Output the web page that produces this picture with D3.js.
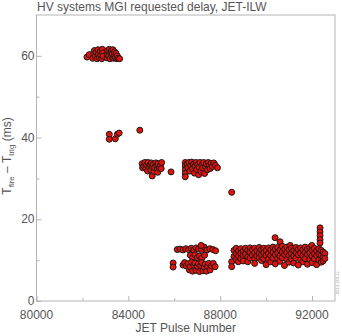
<!DOCTYPE html>
<html>
<head>
<meta charset="utf-8">
<script src="https://cdn.jsdelivr.net/npm/d3@7"></script>
<style>
  body { margin: 0; background: #fff; }
  text { font-family: "Liberation Sans", Arial, sans-serif; }
</style>
</head>
<body>
<div id="chart"></div>
<script>
// pulse number, delay (ms), grouped by era
var groupA = [[82200,59.7],[82300,60.3],[82450,59.4],[82480,60.6],[82520,61.3],[82560,59.9],[82600,60.9],[82640,59.3],[82680,61.5],[82700,60.4],[82740,59.6],[82780,61.1],[82800,60.1],[82840,59.3],[82870,61.6],[82880,60.7],[82900,59.9],
  [83070,59.5],[83080,60.4],[83100,61.3],[83140,60.0],[83170,61.6],[83200,59.3],[83220,60.8],[83260,61.2],[83280,59.8],[83300,60.5],[83330,61.5],[83360,59.4],[83380,60.2],[83400,61.0],[83430,59.6],[83460,60.6],[83500,59.3],[83520,60.0],[83560,59.4],[83620,59.3]];
var groupB = [[83170,40.8],[83170,39.6],[83430,39.7],[83520,40.8],[83600,41.1],[84500,41.8]];
var groupC = [[84600,33.6],[84620,32.6],[84680,33.0],[84720,33.9],[84760,32.4],[84800,33.3],[84840,31.8],[84860,33.9],[84900,32.8],[84950,33.4],[84980,32.1],[85000,33.8],[85040,32.9],[85040,30.6],[85080,33.4],[85120,31.7],[85150,32.7],[85200,33.8],[85240,33.1],[85260,32.2],[85280,31.5],[85300,33.6],[85350,32.5],[85400,33.2],[85450,33.9],[85430,32.4],[85860,31.6]];
var groupD = [[86480,33.9],[86480,33.0],[86480,32.1],[86480,31.2],[86480,30.4],[86560,33.5],[86600,32.6],[86640,33.9],[86680,31.8],[86720,33.2],[86760,34.0],[86800,32.4],[86840,33.5],[86880,31.3],[86900,33.0],[86950,33.9],[86980,32.2],[87020,33.4],[87060,30.9],[87080,32.8],[87120,33.9],[87160,31.7],[87200,33.3],[87240,32.5],[87280,33.9],[87320,31.2],[87360,32.9],[87400,33.6],[87440,32.1],[87480,33.9],[87520,33.1],[87560,32.4],[87600,33.7],[87660,32.9],[87720,33.8],[87790,33.2],[87880,32.6],[88500,26.6]];
var groupE = [[86130,12.6],[86250,12.7],[86380,12.5],[86500,12.8],[86620,12.6],[86740,12.9],[86850,12.5],[86950,13.0],[87060,12.7],[87180,12.6],[87300,13.2],[87420,12.5],[87550,12.8],[87680,12.6],[87800,12.3],[87170,13.6],
  [86700,11.2],[86800,10.6],[86900,11.3],[87000,10.6],[87100,11.0],[87200,10.5],[87320,11.2],
  [85950,9.3],[85950,8.3],[86380,8.8],[86450,9.4],[86520,8.6],[86600,9.1],[86660,7.6],[86700,8.4],[86750,9.5],[86800,7.3],[86850,8.8],[86900,9.3],[86950,7.5],[87000,8.5],[87050,9.1],[87100,7.2],[87150,8.7],[87200,9.4],[87250,7.4],[87300,8.3],[87350,9.0],[87400,7.3],[87450,8.5],[87500,9.2],[87560,7.6],[87620,8.6],[87700,9.2],[87780,8.4]];
var groupF = [[88500,9.6],[88500,8.4],[88600,12.4],[88600,10.9],[88700,12.9],[88700,11.6],[88700,10.2],[88800,12.3],[88800,11.0],[88790,9.6],
  [88900,12.8],[88900,11.7],[88900,10.4],[89000,12.2],[89000,11.1],[89000,9.8],[89100,12.9],[89100,11.5],[89200,12.4],[89200,10.8],[89200,9.6],
  [89300,13.0],[89300,11.9],[89300,10.5],[89400,12.5],[89400,11.2],[89500,12.9],[89500,11.8],[89500,10.3],[89500,9.2],[89600,12.3],[89600,11.0],
  [89700,13.1],[89700,11.7],[89700,10.6],[89800,12.6],[89800,11.3],[89800,9.9],[89900,12.9],[89900,11.8],[89900,10.4],[90000,12.4],[90000,11.1],[90000,8.9],
  [90100,13.0],[90100,11.6],[90100,10.2],[90200,12.5],[90200,11.2],[90200,9.6],[90300,13.2],[90300,11.9],[90300,10.5],
  [90390,15.5],[90400,12.7],[90400,11.3],[90400,9.1],[90500,13.1],[90500,11.8],[90500,10.4],[90610,14.5],[90600,12.5],[90600,11.0],[90600,9.7],
  [90700,13.4],[90700,12.0],[90700,10.6],[90800,12.7],[90800,11.4],[90800,8.7],[90900,13.2],[90900,11.9],[90900,10.2],[91000,12.6],[91000,11.2],[91000,9.5],
  [91050,13.6],[91100,12.9],[91100,11.6],[91100,10.3],[91200,12.4],[91200,11.0],[91200,9.3],[91300,13.1],[91300,11.8],[91300,10.5],
  [91400,12.6],[91400,11.3],[91400,8.8],[91500,13.0],[91500,11.7],[91500,10.1],[91600,12.5],[91600,11.1],[91600,9.6],[91700,13.2],[91700,11.9],[91700,10.4],
  [91800,12.7],[91800,11.4],[91800,9.0],[91900,13.1],[91900,11.8],[91900,10.2],[91990,13.6],[92000,12.4],[92000,11.0],[92000,9.4],
  [92100,12.9],[92100,11.6],[92100,10.3],[92200,12.3],[92200,11.1],[92200,8.9],
  [92350,17.9],[92350,16.9],[92350,16.0],[92350,15.0],[92350,14.2],[92300,12.8],[92300,11.5],[92300,10.0],
  [92400,12.4],[92400,11.2],[92400,9.5],[92480,12.0],[92480,10.7],[92480,9.8],[92560,11.6],[92560,10.4]];

var xMajor = [80000, 84000, 88000, 92000];
var xMinor = [82000, 86000, 90000];
var yMajor = [0, 20, 40, 60];
var yMinor = [10, 30, 50];

var W = 342, H = 336;
var L = 36.5, R = 335, T = 15, B = 301;
var AXIS = "#b4b4b4", TXT = "#555";

var svg = d3.select("#chart").append("svg").attr("width", W).attr("height", H);

var x = d3.scaleLinear().domain([80000, 93000]).range([L, R]);
var y = d3.scaleLinear().domain([0, 70]).range([B, T]);

// frame
svg.append("rect")
  .attr("x", L).attr("y", T).attr("width", R - L).attr("height", B - T)
  .attr("fill", "none").attr("stroke", AXIS).attr("stroke-width", 1);

// ticks, drawn inward
var xAxis = d3.axisTop(x).tickValues(xMajor).tickSize(5).tickFormat("");
svg.append("g").attr("transform", "translate(0," + B + ")").call(xAxis);
svg.append("g").attr("transform", "translate(0," + B + ")")
  .call(d3.axisTop(x).tickValues(xMinor).tickSize(3).tickFormat(""));
svg.append("g").attr("transform", "translate(" + L + ",0)")
  .call(d3.axisRight(y).tickValues(yMajor).tickSize(5).tickFormat(""));
svg.append("g").attr("transform", "translate(" + L + ",0)")
  .call(d3.axisRight(y).tickValues(yMinor).tickSize(3).tickFormat(""));
svg.selectAll(".domain").remove();
svg.selectAll(".tick line").attr("stroke", AXIS);

// tick labels
svg.selectAll(".xlab").data(xMajor).enter().append("text")
  .attr("x", function(d){ return x(d); }).attr("y", 319)
  .attr("text-anchor", "middle").attr("font-size", 12).attr("fill", TXT)
  .text(function(d){ return d; });
svg.selectAll(".ylab").data(yMajor).enter().append("text")
  .attr("x", 34.5).attr("y", function(d){ return y(d) + 4; })
  .attr("text-anchor", "end").attr("font-size", 12).attr("fill", TXT)
  .text(function(d){ return d; });

// titles
svg.append("text").attr("x", 37).attr("y", 11)
  .attr("font-size", 12).attr("fill", TXT)
  .text("HV systems MGI requested delay, JET-ILW");
svg.append("text").attr("x", (L + R) / 2).attr("y", 332)
  .attr("text-anchor", "middle").attr("font-size", 12).attr("fill", TXT)
  .text("JET Pulse Number");

var yl = svg.append("text")
  .attr("transform", "translate(11," + 156 + ") rotate(-90)")
  .attr("text-anchor", "middle").attr("font-size", 12).attr("fill", TXT);
yl.append("tspan").text("T");
yl.append("tspan").attr("font-size", 8).attr("dy", 3).text("fire");
yl.append("tspan").attr("dy", -3).text(" \u2013 T");
yl.append("tspan").attr("font-size", 8).attr("dy", 3).text("trig");
yl.append("tspan").attr("dy", -3).text(" (ms)");

// tiny figure id at the right edge
svg.append("text")
  .attr("transform", "translate(339,283) rotate(-90)")
  .attr("text-anchor", "middle").attr("font-size", 4).attr("fill", "#888")
  .text("JG13.163-1c");

// points
var all = [].concat(groupA, groupB, groupC, groupD, groupE, groupF);
svg.append("g").selectAll("circle").data(all).enter().append("circle")
  .attr("cx", function(d){ return x(d[0]); })
  .attr("cy", function(d){ return y(d[1]); })
  .attr("r", 3)
  .attr("fill", "#e4100c")
  .attr("stroke", "#1a1a1a")
  .attr("stroke-width", 1);
</script>
</body>
</html>
